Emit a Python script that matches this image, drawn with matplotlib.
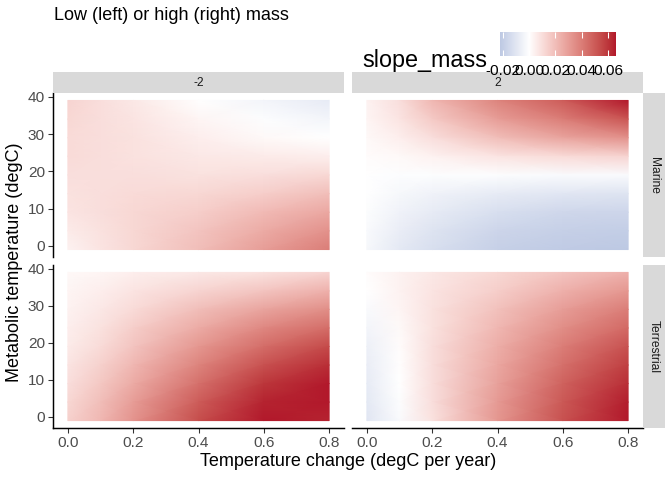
import numpy as np
import matplotlib
matplotlib.use("Agg")
import matplotlib.pyplot as plt
from matplotlib.colors import ListedColormap, Normalize, to_rgb

plt.rcParams['font.family'] = ['Liberation Sans', 'DejaVu Sans']

# values: columns = temperature change, rows = metabolic temperature (top to bottom)
temp_change = [0.0, 0.1, 0.2, 0.4, 0.6, 0.8]
metab_temp = [39, 34, 29, 24, 19, 14, 9, 4, -1]

mass_labels = ['-2', '2']
realm_labels = ['Marine', 'Terrestrial']

slope_marine_low = [
    [0.013, 0.010, 0.007, 0.0005, -0.004, -0.008],
    [0.012, 0.010, 0.008, 0.003, -0.001, -0.004],
    [0.011, 0.010, 0.009, 0.005, 0.002, 0.000],
    [0.011, 0.010, 0.009, 0.007, 0.006, 0.005],
    [0.010, 0.010, 0.010, 0.009, 0.010, 0.012],
    [0.009, 0.010, 0.011, 0.012, 0.015, 0.020],
    [0.008, 0.010, 0.012, 0.015, 0.021, 0.027],
    [0.006, 0.009, 0.012, 0.018, 0.026, 0.034],
    [0.004, 0.008, 0.012, 0.020, 0.030, 0.040],
]
slope_marine_high = [
    [0.004, 0.010, 0.022, 0.038, 0.050, 0.066],
    [0.003, 0.008, 0.016, 0.030, 0.040, 0.052],
    [0.002, 0.005, 0.010, 0.020, 0.028, 0.034],
    [0.001, 0.002, 0.004, 0.008, 0.011, 0.013],
    [0.000, -0.001, -0.001, -0.001, -0.002, -0.002],
    [0.000, -0.003, -0.005, -0.008, -0.010, -0.011],
    [-0.001, -0.005, -0.008, -0.013, -0.016, -0.017],
    [-0.002, -0.007, -0.011, -0.017, -0.019, -0.020],
    [-0.003, -0.009, -0.013, -0.019, -0.021, -0.022],
]
slope_terr_low = [
    [0.002, 0.003, 0.005, 0.007, 0.009, 0.013],
    [0.003, 0.005, 0.008, 0.013, 0.018, 0.024],
    [0.004, 0.007, 0.011, 0.020, 0.028, 0.035],
    [0.005, 0.009, 0.015, 0.026, 0.037, 0.045],
    [0.006, 0.011, 0.018, 0.032, 0.045, 0.055],
    [0.008, 0.014, 0.022, 0.038, 0.053, 0.062],
    [0.010, 0.017, 0.026, 0.044, 0.060, 0.066],
    [0.012, 0.020, 0.030, 0.050, 0.064, 0.066],
    [0.014, 0.022, 0.033, 0.054, 0.066, 0.064],
]
slope_terr_high = [
    [0.001, 0.004, 0.007, 0.012, 0.018, 0.024],
    [0.000, 0.004, 0.008, 0.015, 0.024, 0.032],
    [-0.002, 0.003, 0.009, 0.019, 0.030, 0.040],
    [-0.004, 0.002, 0.009, 0.022, 0.035, 0.046],
    [-0.006, 0.001, 0.010, 0.025, 0.040, 0.053],
    [-0.007, 0.0005, 0.010, 0.027, 0.044, 0.058],
    [-0.008, 0.000, 0.010, 0.029, 0.048, 0.062],
    [-0.009, -0.001, 0.010, 0.031, 0.051, 0.065],
    [-0.010, -0.002, 0.009, 0.032, 0.053, 0.066],
]
panels = [[slope_marine_low, slope_marine_high],
          [slope_terr_low, slope_terr_high]]

cbar_ticks = [-0.02, 0.0, 0.02, 0.04, 0.06]
cbar_labels = ['-0.02', '0.00', '0.02', '0.04', '0.06']

W, H = 672, 480
fig = plt.figure(figsize=(W / 96, H / 96), dpi=96)


def box(x0, y0, x1, y1):
    # pixel box -> figure fraction
    return [x0 / W, 1 - y1 / H, (x1 - x0) / W, (y1 - y0) / H]


# --- colour scale: blue / white / red mixed in Lab space, like ggplot's gradient2 ---
M = np.array([[0.4124, 0.3576, 0.1805],
              [0.2126, 0.7152, 0.0722],
              [0.0193, 0.1192, 0.9505]])
WHITE_XYZ = np.array([0.95047, 1.0, 1.08883])


def rgb2lab(c):
    c = np.asarray(c, float)
    lin = np.where(c <= 0.04045, c / 12.92, ((c + 0.055) / 1.055) ** 2.4)
    xyz = M @ lin / WHITE_XYZ
    f = np.where(xyz > 0.008856, np.cbrt(xyz), 7.787 * xyz + 16 / 116)
    return np.array([116 * f[1] - 16, 500 * (f[0] - f[1]), 200 * (f[1] - f[2])])


def lab2rgb(lab):
    L, a, b = lab
    fy = (L + 16) / 116
    f = np.array([fy + a / 500, fy, fy - b / 200])
    xyz = np.where(f ** 3 > 0.008856, f ** 3, (f - 16 / 116) / 7.787) * WHITE_XYZ
    lin = np.linalg.solve(M, xyz)
    c = np.where(lin <= 0.0031308, 12.92 * lin, 1.055 * np.clip(lin, 0, None) ** (1 / 2.4) - 0.055)
    return np.clip(c, 0, 1)


low_lab, mid_lab, high_lab = (rgb2lab(to_rgb(c)) for c in ('#2166AC', '#FFFFFF', '#B2182B'))
cols_lut = []
for t in np.linspace(0, 1, 512):
    if t < 0.5:
        lab = low_lab + (mid_lab - low_lab) * (t / 0.5)
    else:
        lab = mid_lab + (high_lab - mid_lab) * ((t - 0.5) / 0.5)
    cols_lut.append(lab2rgb(lab))
cmap = ListedColormap(cols_lut)

all_vals = np.concatenate([np.ravel(p) for row in panels for p in row])
lo, hi = all_vals.min(), all_vals.max()
lim = max(abs(lo), abs(hi))
norm = Normalize(-lim, lim)

cols = [(53, 344), (352, 643)]
rows = [(93, 257), (265, 428)]

X, Y = np.meshgrid(temp_change, metab_temp)
tick_kw = dict(length=4, width=0.8, color='#333333', labelcolor='#4D4D4D',
               labelsize=11.5, pad=2)

for r, (y0, y1) in enumerate(rows):
    for c, (x0, x1) in enumerate(cols):
        ax = fig.add_axes(box(x0, y0, x1, y1))
        ax.pcolormesh(X, Y, np.array(panels[r][c]), cmap=cmap, norm=norm,
                      shading='gouraud', rasterized=True)
        ax.set_xlim(-0.0455, 0.8455)
        ax.set_ylim(-3, 41)
        for s in ax.spines.values():
            s.set_visible(False)
        ax.set_xticks([0.0, 0.2, 0.4, 0.6, 0.8])
        ax.set_yticks([0, 10, 20, 30, 40])
        ax.tick_params(**tick_kw)
        if c == 0:
            ax.spines['left'].set_visible(True)
            ax.spines['left'].set_linewidth(1.1)
        else:
            ax.tick_params(axis='y', left=False, labelleft=False)
        if r == 1:
            ax.spines['bottom'].set_visible(True)
            ax.spines['bottom'].set_linewidth(1.1)
            ax.xaxis.set_major_formatter(plt.FormatStrFormatter('%.1f'))
        else:
            ax.tick_params(axis='x', bottom=False, labelbottom=False)

# facet strips
strip_kw = dict(fontsize=9, color='#1A1A1A', ha='center', va='center')
for c, (x0, x1) in enumerate(cols):
    sx = fig.add_axes(box(x0, 72, x1, 93))
    sx.set_facecolor('#D9D9D9')
    sx.set_xticks([]); sx.set_yticks([])
    for s in sx.spines.values():
        s.set_visible(False)
    sx.text(0.5, 0.5, mass_labels[c], transform=sx.transAxes, **strip_kw)
for r, (y0, y1) in enumerate(rows):
    sx = fig.add_axes(box(643, y0, 665, y1))
    sx.set_facecolor('#D9D9D9')
    sx.set_xticks([]); sx.set_yticks([])
    for s in sx.spines.values():
        s.set_visible(False)
    sx.text(0.5, 0.5, realm_labels[r], transform=sx.transAxes, rotation=-90, **strip_kw)

# titles
fig.text(54 / W, 1 - 15 / H, 'Low (left) or high (right) mass', fontsize=13.5,
         ha='left', va='center', color='black')
fig.text(348 / W, 1 - 462 / H, 'Temperature change (degC per year)', fontsize=13.5,
         ha='center', va='center', color='black')
fig.text(15 / W, 1 - 262 / H, 'Metabolic temperature (degC)', fontsize=13.5,
         ha='center', va='center', rotation=90, color='black')

# legend: colour bar above the right strip
cax = fig.add_axes(box(500, 32, 616, 56))
grad = np.linspace(lo, hi, 256)[None, :]
cax.imshow(grad, cmap=cmap, norm=norm, aspect='auto', extent=[lo, hi, 0, 1])
cax.set_xlim(lo, hi)
cax.set_yticks([])
for s in cax.spines.values():
    s.set_visible(False)
cax.set_xticks(cbar_ticks)
cax.set_xticklabels(cbar_labels)
cax.tick_params(axis='x', direction='in', top=True, bottom=True, color='white',
                length=4.5, width=0.8, labelsize=11.5, labelcolor='black', pad=6)
fig.text(362 / W, 1 - 67 / H, 'slope_mass', fontsize=17.5, ha='left', va='baseline',
         color='black')

fig.savefig('out.png', dpi=96)
